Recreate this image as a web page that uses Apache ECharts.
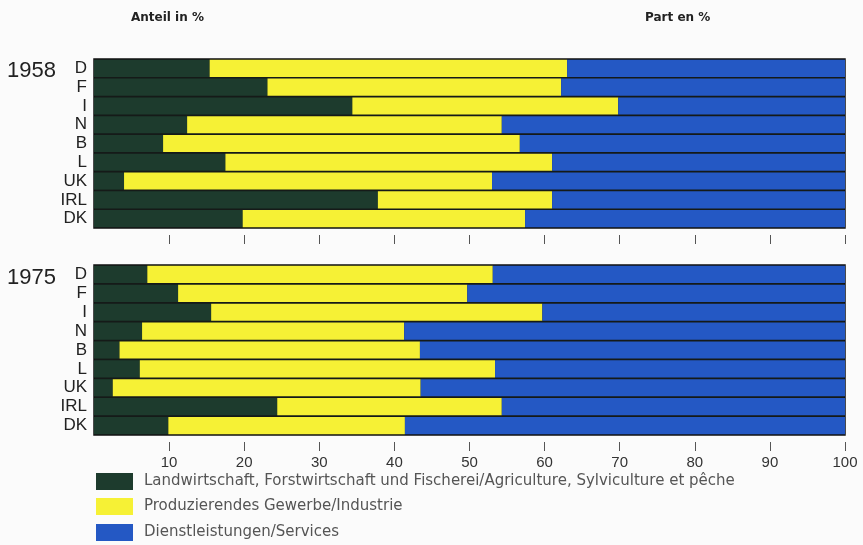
<!DOCTYPE html>
<html><head><meta charset="utf-8">
<script src="https://cdn.jsdelivr.net/npm/echarts@6/dist/echarts.min.js"></script>
<style>html,body{margin:0;padding:0;background:#fbfbfb}#c{width:863px;height:545px}</style>
</head><body><div id="c"></div>
<script>
const countries = ['D','F','I','N','B','L','UK','IRL','DK'];
const seriesNames = ['Landwirtschaft, Forstwirtschaft und Fischerei/Agriculture, Sylviculture et pêche','Produzierendes Gewerbe/Industrie','Dienstleistungen/Services'];
const agri1958 = [15.4, 23.1, 34.4, 12.4, 9.2, 17.5, 4.0, 37.8, 19.8];
const ind1958  = [47.6, 39.1, 35.4, 41.9, 47.5, 43.5, 49.0, 23.2, 37.6];
const serv1958 = [37.0, 37.8, 30.2, 45.7, 43.3, 39.0, 47.0, 39.0, 42.6];
const agri1975 = [7.1, 11.2, 15.6, 6.4, 3.4, 6.1, 2.5, 24.4, 9.9];
const ind1975  = [46.0, 38.5, 44.1, 34.9, 40.0, 47.3, 41.0, 29.9, 31.5];
const serv1975 = [46.9, 50.3, 40.3, 58.7, 56.6, 46.6, 56.5, 45.7, 58.6];
const tickValues = [10,20,30,40,50,60,70,80,90,100];
const years = ['1958','1975'];
const colors = ['#1d3b2d','#f6f135','#2458c4'];
const font = 'Liberation Sans, Arial, sans-serif';
const font2 = 'DejaVu Sans, sans-serif';

const chart = echarts.init(document.getElementById('c'));
function xAx(idx, showLabel){
  return {type:'value', gridIndex:idx, min:0, max:100, interval:10, position:'bottom', offset:7,
    axisLine:{show:false}, splitLine:{show:false},
    axisTick:{show:true, length:9, customValues:tickValues, lineStyle:{color:'#555', width:1}},
    axisLabel:{show:showLabel, customValues:tickValues, color:'#333', fontSize:15, fontFamily:font, margin:13}};
}
function yAx(idx){
  return {type:'category', gridIndex:idx, data:countries, inverse:true,
    axisLine:{show:false}, axisTick:{show:false}, splitLine:{show:false},
    axisLabel:{interval:0, color:'#222', fontSize:17, fontFamily:font, margin:7}};
}
const data = [[agri1958, ind1958, serv1958],[agri1975, ind1975, serv1975]];
const series = [];
for (let g=0; g<2; g++){
  for (let s=0; s<3; s++){
    series.push({name:seriesNames[s], type:'bar', stack:'y'+g, xAxisIndex:g, yAxisIndex:g,
      barCategoryGap:'9%', data:data[g][s], itemStyle:{color:colors[s]}, silent:true});
  }
}
const legendTops = [473, 498, 524];
const legends = seriesNames.map((n,i)=>({orient:'vertical', left:96, top:legendTops[i], itemWidth:37, itemHeight:17,
  icon:'rect', selectedMode:false, padding:0,
  textStyle:{color:'#555', fontSize:15, fontFamily:font2, padding:[2,0,0,6]}, data:[n]}));
chart.setOption({
  animation:false,
  backgroundColor:'#fbfbfb',
  color:colors,
  grid:[
    {left:94, width:751, top:59, height:169, show:true, backgroundColor:'#151a18', borderColor:'#111', borderWidth:1.5},
    {left:94, width:751, top:265, height:170, show:true, backgroundColor:'#151a18', borderColor:'#111', borderWidth:1.5}
  ],
  xAxis:[xAx(0,false), xAx(1,true)],
  yAxis:[yAx(0), yAx(1)],
  legend:legends,
  graphic:[
    {type:'text', left:7, top:60, style:{text:years[0], font:'22px '+font, fill:'#222'}},
    {type:'text', left:7, top:267, style:{text:years[1], font:'22px '+font, fill:'#222'}},
    {type:'text', left:131, top:12, style:{text:'Anteil in %', font:'bold 12px '+font2, fill:'#222'}},
    {type:'text', left:645, top:12, style:{text:'Part en %', font:'bold 12px '+font2, fill:'#222'}}
  ],
  series:series
});
</script></body></html>
